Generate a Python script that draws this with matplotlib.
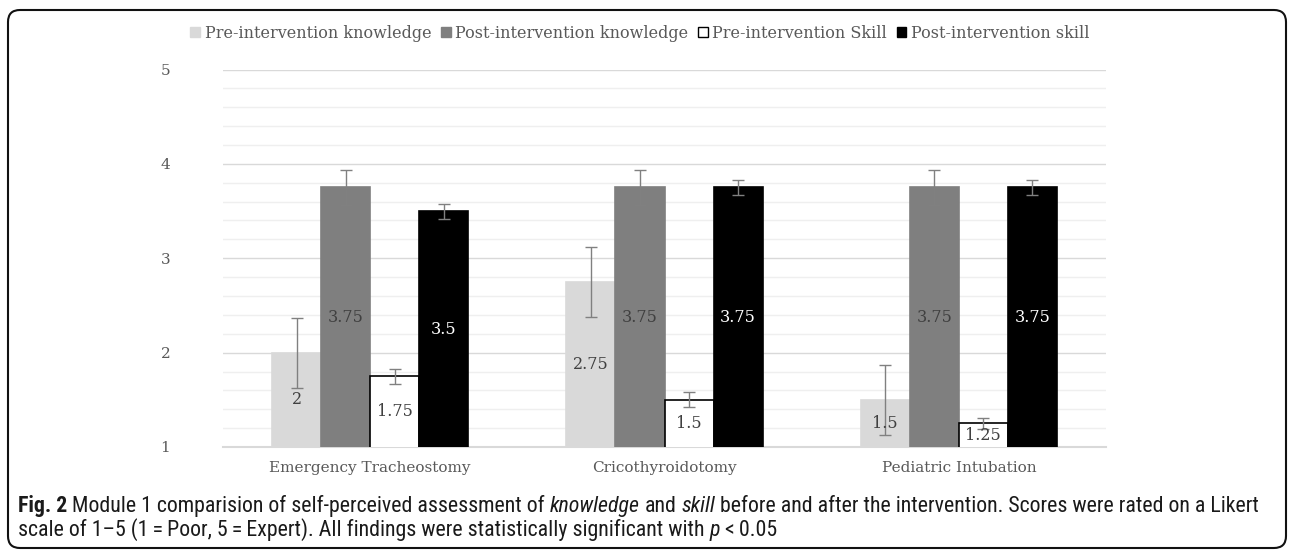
import numpy as np
import matplotlib
matplotlib.use("Agg")
import matplotlib.pyplot as plt
from matplotlib import font_manager
from matplotlib.patches import FancyBboxPatch, Patch
from matplotlib.ticker import MultipleLocator
from matplotlib.transforms import IdentityTransform


categories = ["Emergency Tracheostomy", "Cricothyroidotomy", "Pediatric Intubation"]
series_names = ["Pre-intervention knowledge", "Post-intervention knowledge",
                "Pre-intervention Skill", "Post-intervention skill"]
pre_knowledge = [2, 2.75, 1.5]
post_knowledge = [3.75, 3.75, 3.75]
pre_skill = [1.75, 1.5, 1.25]
post_skill = [3.5, 3.75, 3.75]
err_pre_knowledge = [0.37, 0.37, 0.37]
err_post_knowledge = [0.19, 0.19, 0.19]
err_pre_skill = [0.08, 0.08, 0.06]
err_post_skill = [0.08, 0.08, 0.08]
value_labels = [["2", "2.75", "1.5"], ["3.75", "3.75", "3.75"],
                ["1.75", "1.5", "1.25"], ["3.5", "3.75", "3.75"]]
y_ticks = [1, 2, 3, 4, 5]


def pick(fams):
    for f in fams:
        try:
            font_manager.findfont(font_manager.FontProperties(family=f),
                                  fallback_to_default=False)
            return f
        except ValueError:
            pass
    return "DejaVu Sans"


serif = pick(["DejaVu Serif", "Liberation Serif"])
cap_font = pick(["Liberation Sans Narrow", "Roboto Condensed", "Liberation Sans"])

W, H = 1292, 550
fig = plt.figure(figsize=(W / 100, H / 100), dpi=100)
ax = fig.add_axes([223 / W, 1 - 447 / H, (1106 - 223) / W, (447 - 69.5) / H])

series = [pre_knowledge, post_knowledge, pre_skill, post_skill]
errors = [err_pre_knowledge, err_post_knowledge, err_pre_skill, err_post_skill]
faces = ["#d9d9d9", "#7f7f7f", "#ffffff", "#000000"]
edges = ["#d9d9d9", "#7f7f7f", "#000000", "#000000"]
label_cols = ["#404040", "#404040", "#404040", "#ffffff"]

x = np.arange(len(categories))
bw = 0.1667
for i, (vals, errs) in enumerate(zip(series, errors)):
    pos = x + (i - 1.5) * bw
    ax.bar(pos, vals, bw, color=faces[i], edgecolor=edges[i], linewidth=1.2, zorder=3)
    ax.errorbar(pos, vals, yerr=errs, fmt="none", ecolor="#808080", elinewidth=1,
                capsize=4, capthick=1, zorder=4)
    for p, v, lab in zip(pos, vals, value_labels[i]):
        ax.text(p, (1 + v) / 2, lab, ha="center", va="center", fontsize=11.5,
                color=label_cols[i], family=serif, zorder=5)

ax.set_xlim(-0.5, 2.5)
ax.set_ylim(1, 5)
ax.set_yticks(y_ticks)
ax.yaxis.set_minor_locator(MultipleLocator(0.2))
ax.grid(which="major", axis="y", color="#d9d9d9", lw=1, zorder=0)
ax.grid(which="minor", axis="y", color="#efefef", lw=1, zorder=0)
ax.set_xticks(x)
ax.set_xticklabels(categories)
for s in ["top", "left", "right"]:
    ax.spines[s].set_visible(False)
ax.spines["bottom"].set_color("#d9d9d9")
ax.spines["bottom"].set_linewidth(1.5)
ax.tick_params(axis="y", which="both", length=0, pad=38, labelsize=11, labelcolor="#595959")
ax.tick_params(axis="x", length=0, pad=10, labelsize=11, labelcolor="#595959")
for t in ax.get_xticklabels() + ax.get_yticklabels():
    t.set_family(serif)

handles = [Patch(facecolor=faces[i], edgecolor=edges[i], lw=1) for i in range(4)]
fig.legend(handles, series_names, loc="center", bbox_to_anchor=(640 / W, 1 - 33 / H),
           ncol=4, frameon=False, handlelength=0.6, handleheight=0.6, handletextpad=0.3,
           columnspacing=0.6, prop={"family": serif, "size": 11.5}, labelcolor="#595959")

# rounded frame around the figure
frame = FancyBboxPatch((8, 2), 1278, 538, boxstyle="round,pad=0,rounding_size=12",
                       transform=IdentityTransform(), fill=False, ec="#111111", lw=1.5)
fig.patches.append(frame)

# caption with mixed bold / italic runs
renderer = fig.canvas.get_renderer()


def text_w(s, size, weight="normal", style="normal"):
    t = fig.text(0, 0, s, fontsize=size, weight=weight, style=style, family=cap_font,
                 transform=IdentityTransform())
    w = t.get_window_extent(renderer).width
    t.remove()
    return w


line1 = [("Fig. 2", "bold", "normal"),
         ("Module 1 comparision of self-perceived assessment of", "normal", "normal"),
         ("knowledge", "normal", "italic"), ("and", "normal", "normal"),
         ("skill", "normal", "italic"),
         ("before and after the intervention. Scores were rated on a Likert", "normal", "normal")]
line2 = [("scale of 1\u20135 (1\u2009=\u2009Poor, 5\u2009=\u2009Expert). All findings were statistically significant with",
          "normal", "normal"),
         ("p", "normal", "italic"), ("<\u20090.05", "normal", "normal")]

base = 12
w1 = sum(text_w(r[0], base, r[1], r[2]) for r in line1) + 5 * text_w("a a", base) - 5 * text_w("aa", base)
size = base * 1245 / w1
space = text_w("a a", size) - text_w("aa", size)


def draw_line(runs, x0, y0):
    xx = x0
    for s, wgt, sty in runs:
        t = fig.text(xx, y0, s, fontsize=size, weight=wgt, style=sty, family=cap_font,
                     color="#1a1a1a", transform=IdentityTransform(), va="baseline")
        xx += t.get_window_extent(renderer).width + space


draw_line(line1, 18, H - 512)
draw_line(line2, 18, H - 536)

fig.savefig("out.png", dpi=100)
